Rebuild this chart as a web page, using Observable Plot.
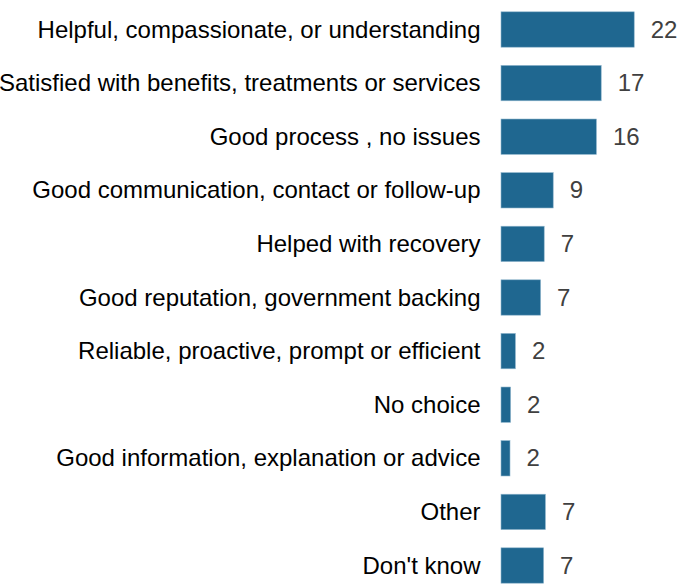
<!DOCTYPE html>
<html>
<head>
<meta charset="utf-8">
<script src="https://cdn.jsdelivr.net/npm/d3@7"></script>
<script src="https://cdn.jsdelivr.net/npm/@observablehq/plot@0.6"></script>
<style>
  html, body { margin: 0; padding: 0; background: #fff; }
  #chart svg { display: block; }
</style>
</head>
<body>
<div id="chart"></div>
<script>
// Reasons given for a positive experience (percent of respondents)
const categories = [
  "Helpful, compassionate, or understanding",
  "Satisfied with benefits, treatments or services",
  "Good process , no issues",
  "Good communication, contact or follow-up",
  "Helped with recovery",
  "Good reputation, government backing",
  "Reliable, proactive, prompt or efficient",
  "No choice",
  "Good information, explanation or advice",
  "Other",
  "Don't know"
];
const values = [22.2, 16.7, 15.9, 8.7, 7.2, 6.6, 2.4, 1.6, 1.5, 7.4, 7.1];

const data = categories.map((reason, i) => ({reason, value: values[i]}));

const W = 677, H = 585;
const chart = Plot.plot({
  width: W,
  height: H,
  marginLeft: 501,
  marginRight: 0,
  marginTop: 0,
  marginBottom: 0,
  style: {fontFamily: "'Liberation Sans', Arial, sans-serif", background: "#fff"},
  x: {domain: [0, 29.33], range: [501, 677], axis: null},
  y: {domain: categories, range: [2.7, 592.3], round: false, paddingInner: 0.34, paddingOuter: 0.17, label: null},
  marks: [
    Plot.barX(data, {
      x: "value", y: "reason",
      fill: "#1f6790", stroke: "#8fb5cc", strokeWidth: 0.6
    }),
    Plot.ruleX([0], {stroke: "#d9d9d9", strokeWidth: 1.6, dx: -1, y1: 0, y2: H}),
    Plot.text(data, {
      x: "value", y: "reason",
      text: d => String(Math.round(d.value)),
      textAnchor: "start", dx: 16,
      fill: "#404040", fontSize: 24
    }),
    Plot.axisY({
      tickSize: 0, tickPadding: 21, fontSize: 24,
      color: "#000", label: null
    })
  ]
});
document.getElementById("chart").appendChild(chart);
</script>
</body>
</html>
